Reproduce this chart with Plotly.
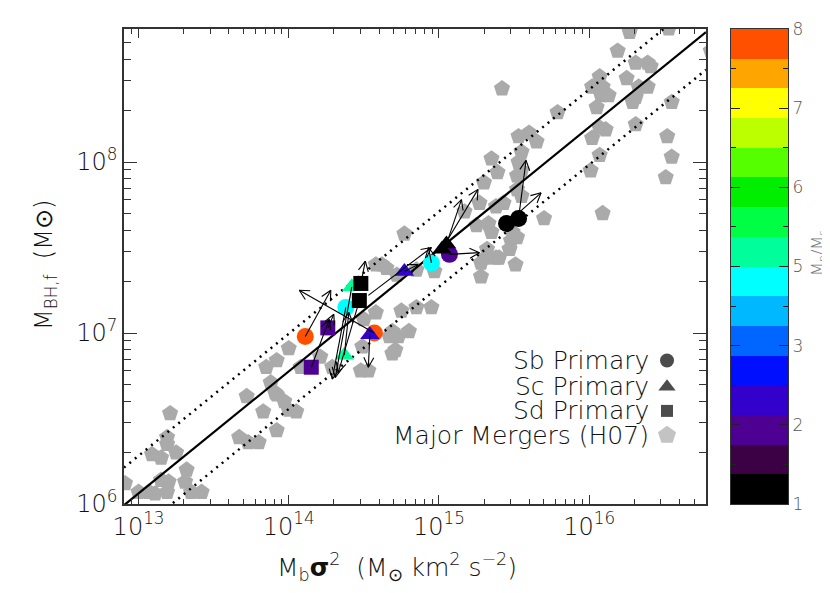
import math
import plotly.graph_objects as go

# =====================
# Data (log10 values)
# =====================

# Major mergers, Hopkins et al. 2007 (log10 Mb sigma^2, log10 M_BH)
H07_LOGX = [16.27, 16.53, 16.19, 16.31, 16.39, 16.41, 16.25, 16.07, 16.02, 16.09,
            16.08, 16.13, 16.33, 16.39, 16.31, 16.29, 16.05, 16.55, 16.81, 16.07,
            16.11, 16.02, 16.31, 16.52, 16.07, 16.55, 16.01, 16.51, 16.09,
            15.42, 15.79, 15.53, 15.60, 15.65, 15.55, 15.35, 15.53, 15.55, 15.39,
            15.52, 15.30, 15.52, 15.27, 15.38, 15.43, 15.55, 15.70, 15.25, 15.33,
            15.35, 15.49, 15.52, 15.48, 15.47, 15.32, 15.38, 15.31, 15.28, 15.40,
            15.51, 15.28, 15.17, 14.97,
            14.77, 14.62, 14.58, 14.65, 14.85, 14.72, 14.95, 14.85, 14.75, 14.58,
            14.50, 14.69, 14.80, 14.73, 14.67, 14.71, 14.69, 14.49, 14.48, 14.53,
            14.29, 14.21, 14.00, 13.92, 13.85, 14.08, 13.88, 13.91, 13.72,
            13.21, 13.19, 13.19, 13.09, 13.15, 13.25, 12.91, 13.00, 13.07, 13.15,
            13.20, 13.19, 13.11, 13.32, 13.31, 13.35, 13.42, 13.83, 13.92, 13.97,
            14.05, 14.00, 13.92, 13.67, 13.73, 13.80]
H07_LOGY = [8.76, 8.78, 8.65, 8.58, 8.58, 8.56, 8.49, 8.50, 8.44, 8.44,
            8.39, 8.39, 8.44, 8.44, 8.38, 8.35, 8.32, 8.35, 8.65, 8.20,
            8.19, 8.14, 8.22, 8.15, 8.04, 8.03, 7.95, 7.91, 7.70,
            8.43, 8.29, 8.15, 8.17, 8.12, 8.06, 8.02, 8.00, 7.95, 7.94,
            7.92, 7.88, 7.84, 7.76, 7.74, 7.76, 7.80, 7.67, 7.63, 7.64,
            7.59, 7.59, 7.56, 7.54, 7.49, 7.49, 7.44, 7.44, 7.41, 7.44,
            7.40, 7.33, 7.71, 7.36,
            7.58, 7.40, 7.40, 7.38, 7.37, 7.34, 7.15, 7.15, 7.13, 7.12,
            7.08, 7.01, 7.01, 6.98, 6.98, 6.90, 6.88, 6.92, 6.78, 6.78,
            6.80, 6.86, 6.91, 6.84, 6.80, 6.80, 6.71, 6.65, 6.63,
            6.53, 6.39, 6.35, 6.29, 6.27, 6.30, 6.12, 6.07, 6.07, 6.14,
            6.13, 6.07, 6.06, 6.20, 6.13, 6.07, 6.07, 6.54, 6.64, 6.60,
            6.54, 6.55, 6.43, 6.39, 6.36, 6.36]

# simulated remnants, coloured by M_p/M_s band (0 = bottom of colour bar)
SB_LOGX = [14.11, 14.57, 14.38, 14.95, 15.07, 15.45, 15.53]
SB_LOGY = [6.98, 7.00, 7.15, 7.41, 7.46, 7.64, 7.67]
SB_BAND = [15, 15, 7, 7, 2, 0, 0]

SC_LOGX = [14.37, 14.42, 14.54, 14.77, 15.05, 15.02]
SC_LOGY = [6.87, 7.27, 6.99, 7.36, 7.52, 7.49]
SC_BAND = [8, 8, 3, 3, 0, 0]

SD_LOGX = [14.26, 14.15, 14.48, 14.47]
SD_LOGY = [7.03, 6.80, 7.29, 7.19]
SD_BAND = [2, 2, 0, 0]

# evolution arrows (from -> to)
ARROW_FROM_LOGX = [14.11, 14.57, 14.38, 14.95, 15.07, 15.45, 15.53, 14.37, 14.42,
                   14.54, 14.77, 15.05, 15.02, 14.26, 14.15, 14.48, 14.47, 14.53]
ARROW_FROM_LOGY = [6.98, 7.00, 7.15, 7.41, 7.46, 7.64, 7.67, 6.87, 7.27,
                   6.99, 7.36, 7.52, 7.49, 7.03, 6.80, 7.29, 7.19, 7.22]
ARROW_TO_LOGX = [14.28, 14.07, 14.29, 14.93, 15.27, 15.68, 15.58, 14.40, 14.31,
                 14.53, 14.86, 15.15, 15.26, 14.30, 14.27, 14.51, 14.33, 14.95]
ARROW_TO_LOGY = [7.25, 7.25, 6.73, 7.50, 7.47, 7.82, 8.01, 7.12, 6.74,
                 6.80, 7.40, 7.78, 7.84, 7.11, 7.08, 7.42, 6.77, 7.50]

# H07 relation: log M_BH = A + B (log Mb sigma^2 - 15), scatter +/- S dex
FIT_A, FIT_B, FIT_S = 7.49, 0.714, 0.22

# colour bar bands, bottom to top
BAND_COLORS = ["#000000", "#3c0044", "#4e0092", "#3300cc", "#0010ff", "#0066ff",
               "#00b8ff", "#00ffff", "#00ff9a", "#00ff44", "#00ee00", "#55ff00",
               "#bbff00", "#ffff00", "#ffa500", "#ff5000"]
CB_TICKVALS = [0, 2.667, 5.333, 8, 10.667, 13.333, 16]
CB_TICKTEXT = ["1", "2", "3", "5", "6", "7", "8"]

LEGEND_LABELS = ["Sb Primary", "Sc Primary", "Sd Primary", "Major Mergers (H07)"]
LEGEND_SYMBOLS = ["circle", "triangle-up", "square", "pentagon"]

# =====================
# Layout constants (page has an 8px body margin)
# =====================
W, H = 822, 585
ML, MR, MT, MB = 116, 42, 21, 89
PLOT_W = 582
AREA_W = W - ML - MR
PLOT_H = H - MT - MB
X_RANGE = [math.log10(8e12), math.log10(6e16)]
Y_RANGE = [6.0, math.log10(6e8)]
FONT = "DejaVu Sans"
GRAY = "#aaaaaa"
INK = "#111111"


def _p(v):
    return [10 ** a for a in v]


fig = go.Figure()

fig.add_trace(go.Scatter(
    x=_p(H07_LOGX), y=_p(H07_LOGY), mode="markers",
    marker=dict(symbol="pentagon", size=17, color=GRAY, line=dict(width=0)),
    showlegend=False,
))

# relation and scatter
lx = [X_RANGE[0], X_RANGE[1]]
for off, dash, wd in [(0, "solid", 2.2), (FIT_S, "2px,5px", 2.5), (-FIT_S, "2px,5px", 2.5)]:
    ly = [FIT_A + FIT_B * (v - 15) + off for v in lx]
    fig.add_trace(go.Scatter(x=_p(lx), y=_p(ly), mode="lines",
                             line=dict(color="black", width=wd, dash=dash),
                             showlegend=False))

for lx_, ly_, bands, sym, sz in [
    (SB_LOGX, SB_LOGY, SB_BAND, "circle", 17),
    (SC_LOGX, SC_LOGY, SC_BAND, "triangle-up", 17),
    (SD_LOGX, SD_LOGY, SD_BAND, "square", 15),
]:
    fig.add_trace(go.Scatter(
        x=_p(lx_), y=_p(ly_), mode="markers",
        marker=dict(symbol=sym, size=sz, color=[BAND_COLORS[b] for b in bands], line=dict(width=0)),
        showlegend=False,
    ))

# arrows: shaft + open head, head size in pixels
kx = PLOT_W / (X_RANGE[1] - X_RANGE[0])
ky = PLOT_H / (Y_RANGE[1] - Y_RANGE[0])
HEAD_LEN, HEAD_ANG = 11, math.radians(27)
ax, ay = [], []
for x0, y0, x1, y1 in zip(ARROW_FROM_LOGX, ARROW_FROM_LOGY, ARROW_TO_LOGX, ARROW_TO_LOGY):
    dx, dy = (x1 - x0) * kx, (y1 - y0) * ky
    n = math.hypot(dx, dy)
    ux, uy = dx / n, dy / n
    ax += [x0, x1, None]
    ay += [y0, y1, None]
    for s in (1, -1):
        c, sn = math.cos(HEAD_ANG), math.sin(s * HEAD_ANG)
        rx = -(ux * c - uy * sn)
        ry = -(ux * sn + uy * c)
        ax += [x1 + rx * HEAD_LEN / kx, x1, None]
        ay += [y1 + ry * HEAD_LEN / ky, y1, None]
fig.add_trace(go.Scatter(
    x=[10 ** v if v is not None else None for v in ax],
    y=[10 ** v if v is not None else None for v in ay],
    mode="lines", line=dict(color="black", width=1.1), showlegend=False,
))

# colour bar as its own heatmap panel
cs = []
for i, c in enumerate(BAND_COLORS):
    cs += [[i / 16, c], [(i + 1) / 16, c]]
fig.add_trace(go.Heatmap(
    z=[[i + 0.5] for i in range(16)], x=[0], y=[i + 0.5 for i in range(16)],
    zmin=0, zmax=16, colorscale=cs, showscale=False, hoverinfo="skip",
    xaxis="x2", yaxis="y2",
))

# legend keys (symbols on the right of the labels)
LEG_Y = [0.302, 0.247, 0.196, 0.145]
fig.add_trace(go.Scatter(
    x=[0.933] * 4, y=LEG_Y, mode="markers", xaxis="x3", yaxis="y3",
    marker=dict(symbol=LEGEND_SYMBOLS, size=[14, 15, 12, 19],
                color=["black", "black", "black", GRAY], line=dict(width=0)),
    showlegend=False,
))
for lab, yy in zip(LEGEND_LABELS, LEG_Y):
    fig.add_annotation(x=0.906, y=yy, xref="x3", yref="y3", text=lab, showarrow=False,
                       xanchor="right", yanchor="middle",
                       font=dict(size=25, color=INK, weight=300))

major_x = [1e13, 1e14, 1e15, 1e16]
minor_x = [m * 10 ** e for e in range(12, 17) for m in range(2, 10)]
major_y = [1e6, 1e7, 1e8]
minor_y = [m * 10 ** e for e in range(6, 9) for m in range(2, 10)]

ax_common = dict(type="log", showgrid=False, zeroline=False, showline=True, linecolor="#333",
                 linewidth=1.5, mirror="ticks", ticks="inside", tickcolor="#333",
                 tickfont=dict(size=24, color=INK, weight=300))
fig.update_layout(
    width=W, height=H, margin=dict(l=ML, r=MR, t=MT, b=MB),
    paper_bgcolor="white", plot_bgcolor="white",
    font=dict(family=FONT, color=INK, weight=300),
    xaxis=dict(**ax_common, domain=[0, PLOT_W / AREA_W], range=X_RANGE,
               tickvals=major_x, ticktext=["10<sup>%d</sup>" % math.log10(v) for v in major_x],
               ticklen=9, tickwidth=1.2,
               minor=dict(tickvals=minor_x, ticks="inside", ticklen=5, tickcolor="#333")),
    yaxis=dict(**ax_common, range=Y_RANGE, tickvals=major_y,
               ticktext=["10<sup>%d</sup>" % math.log10(v) for v in major_y],
               ticklen=13, tickwidth=1.2,
               minor=dict(tickvals=minor_y, ticks="inside", ticklen=7, tickcolor="#333")),
    xaxis2=dict(domain=[(723 - ML) / AREA_W, 1], anchor="y2", range=[-0.5, 0.5],
                showticklabels=False, ticks="", showgrid=False, zeroline=False,
                showline=True, mirror=True, linecolor="#333", linewidth=1),
    yaxis2=dict(anchor="x2", side="right", range=[0, 16], tickvals=CB_TICKVALS, ticktext=CB_TICKTEXT,
                ticks="inside", ticklen=9, tickcolor="#222", mirror="ticks", showline=True,
                linecolor="#333", linewidth=1, showgrid=False, zeroline=False,
                minor=dict(tickvals=[1.333, 4, 6.667, 9.333, 12, 14.667], ticks="inside",
                           ticklen=5, tickcolor="#222"),
                tickfont=dict(size=17, color="#555", weight=300)),
    xaxis3=dict(overlaying="x", domain=[0, PLOT_W / AREA_W], range=[0, 1], visible=False,
                anchor="y3"),
    yaxis3=dict(overlaying="y", range=[0, 1], visible=False, anchor="x3"),
)

# axis titles placed like the reference
fig.add_annotation(x=(389 - ML) / AREA_W, y=-63 / PLOT_H, xref="paper", yref="paper",
                   text="M<sub>b</sub><b>σ</b><sup>2</sup>  (M<sub>⊙</sub> km<sup>2</sup> s<sup>−2</sup>)",
                   showarrow=False, xanchor="center", yanchor="middle",
                   font=dict(size=25, color=INK, weight=300))
fig.add_annotation(x=(37 - ML) / AREA_W, y=(496 - 257) / PLOT_H, xref="paper", yref="paper",
                   text="M<sub>BH,f</sub>  (M⊙)", textangle=-90, showarrow=False,
                   xanchor="center", yanchor="middle", font=dict(size=24, color=INK, weight=300))
fig.add_annotation(x=(810 - ML) / AREA_W, y=(496 - 245) / PLOT_H, xref="paper", yref="paper",
                   text="M<sub>p</sub>/M<sub>s</sub>", textangle=-90, showarrow=False,
                   xanchor="center", yanchor="middle", font=dict(size=16, color="#777"))

fig.write_html("out.html")
